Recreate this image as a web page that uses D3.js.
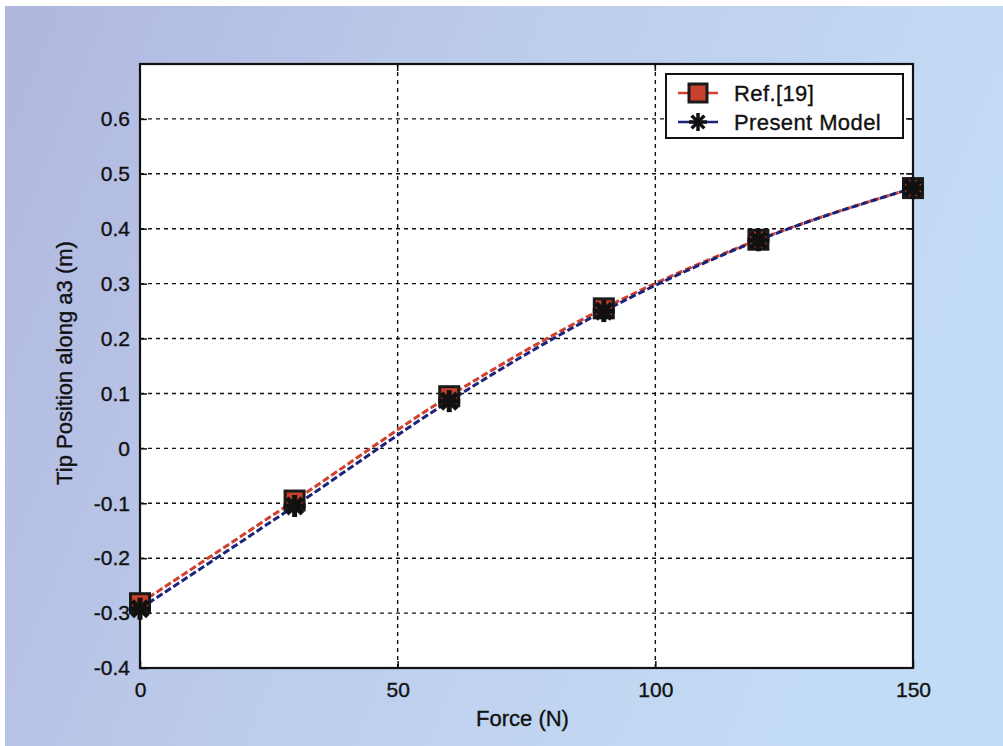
<!DOCTYPE html>
<html>
<head>
<meta charset="utf-8">
<script src="https://cdn.jsdelivr.net/npm/d3@7"></script>
<style>
  body { margin: 0; background: #fff; }
  svg { display: block; font-family: "Liberation Sans", Arial, sans-serif; }
  text { stroke: #111; stroke-width: 0.35px; }
</style>
</head>
<body>
<svg id="chart"></svg>
<script>
// data
const forces = [0, 30, 60, 90, 120, 150];
const refValues = [-0.282, -0.095, 0.095, 0.255, 0.38, 0.474];
const modelValues = [-0.292, -0.105, 0.086, 0.25, 0.379, 0.474];
const xTicks = [0, 50, 100, 150];
const yTicks = [-0.4, -0.3, -0.2, -0.1, 0, 0.1, 0.2, 0.3, 0.4, 0.5, 0.6];
const seriesNames = ["Ref.[19]", "Present Model"];

const W = 1003, H = 746;
const margin = {top: 64, right: 90, bottom: 78, left: 140};
const width = W - margin.left - margin.right;
const height = H - margin.top - margin.bottom;

const svg = d3.select("#chart").attr("width", W).attr("height", H);

// scanned paper background
const defs = svg.append("defs");
const grad = defs.append("linearGradient").attr("id", "bg").attr("x1", 0).attr("x2", 1).attr("y1", 0).attr("y2", 0.3);
grad.append("stop").attr("offset", "0%").attr("stop-color", "#b0b6de");
grad.append("stop").attr("offset", "45%").attr("stop-color", "#bccbeb");
grad.append("stop").attr("offset", "100%").attr("stop-color", "#c3dcf5");
svg.append("rect").attr("x", 5).attr("y", 6).attr("width", W - 5).attr("height", H - 6).attr("fill", "url(#bg)");

const x = d3.scaleLinear().domain([0, 150]).range([0, width]);
const y = d3.scaleLinear().domain([-0.4, 0.7]).range([height, 0]);

const chart = svg.append("g").attr("transform", `translate(${margin.left},${margin.top})`);

chart.append("rect").attr("width", width).attr("height", height).attr("fill", "#fff");

// grid
chart.append("g")
  .selectAll("line").data(xTicks.slice(1, -1)).join("line")
  .attr("x1", d => x(d)).attr("x2", d => x(d)).attr("y1", 0).attr("y2", height)
  .attr("stroke", "#111").attr("stroke-width", 1.4).attr("stroke-dasharray", "4,4");
chart.append("g")
  .selectAll("line").data(yTicks.slice(1)).join("line")
  .attr("x1", 0).attr("x2", width).attr("y1", d => y(d)).attr("y2", d => y(d))
  .attr("stroke", "#111").attr("stroke-width", 1.4).attr("stroke-dasharray", "4,4");

// axes
const fmtY = d => d === 0 ? "0" : d3.format(".1f")(d).replace("−", "-");
const xAxis = d3.axisBottom(x).tickValues(xTicks).tickSize(-7).tickPadding(14).tickFormat(d3.format("d"));
const yAxis = d3.axisLeft(y).tickValues(yTicks).tickSize(-7).tickPadding(10).tickFormat(fmtY);

chart.append("g").attr("transform", `translate(0,${height})`).call(xAxis)
  .call(g => g.select(".domain").remove())
  .call(g => g.selectAll("text").attr("font-size", 21).attr("fill", "#111").attr("font-family", "Liberation Sans, Arial"))
  .call(g => g.selectAll(".tick line").attr("stroke", "#111").attr("stroke-width", 1.5));
chart.append("g").call(yAxis)
  .call(g => g.select(".domain").remove())
  .call(g => g.selectAll("text").attr("font-size", 21).attr("fill", "#111").attr("font-family", "Liberation Sans, Arial"))
  .call(g => g.selectAll(".tick line").attr("stroke", "#111").attr("stroke-width", 1.5));

// top / right ticks
chart.append("g").selectAll("line").data(xTicks).join("line")
  .attr("x1", d => x(d)).attr("x2", d => x(d)).attr("y1", 0).attr("y2", 7)
  .attr("stroke", "#111").attr("stroke-width", 1.5);
chart.append("g").selectAll("line").data(yTicks).join("line")
  .attr("x1", width).attr("x2", width - 7).attr("y1", d => y(d)).attr("y2", d => y(d))
  .attr("stroke", "#111").attr("stroke-width", 1.5);

chart.append("rect").attr("width", width).attr("height", height)
  .attr("fill", "none").attr("stroke", "#111").attr("stroke-width", 2.2);

// series
const line = d3.line().x(d => x(d[0])).y(d => y(d[1])).curve(d3.curveMonotoneX);
const refPts = forces.map((f, i) => [f, refValues[i]]);
const modPts = forces.map((f, i) => [f, modelValues[i]]);

chart.append("path").datum(refPts).attr("d", line)
  .attr("fill", "none").attr("stroke", "#d0402c").attr("stroke-width", 3).attr("stroke-dasharray", "7,3");
chart.append("path").datum(modPts).attr("d", line)
  .attr("fill", "none").attr("stroke", "#1c237a").attr("stroke-width", 3).attr("stroke-dasharray", "7,3");

function asterisk(g, cx, cy, r, w) {
  [0, 45, 90, 135].forEach(a => {
    const t = a * Math.PI / 180;
    g.append("line")
      .attr("x1", cx - r * Math.cos(t)).attr("y1", cy - r * Math.sin(t))
      .attr("x2", cx + r * Math.cos(t)).attr("y2", cy + r * Math.sin(t))
      .attr("stroke", "#111").attr("stroke-width", w);
  });
}

chart.append("g").selectAll("rect").data(refPts).join("rect")
  .attr("x", d => x(d[0]) - 9.5).attr("y", d => y(d[1]) - 9.5)
  .attr("width", 19).attr("height", 19)
  .attr("fill", "#c8412c").attr("stroke", "#1a1a1a").attr("stroke-width", 3);
const stars = chart.append("g");
modPts.forEach(d => asterisk(stars, x(d[0]), y(d[1]), 11, 5));

// legend
const lg = svg.append("g").attr("transform", "translate(666,74)");
lg.append("rect").attr("width", 237).attr("height", 64)
  .attr("fill", "#fff").attr("stroke", "#111").attr("stroke-width", 2);
lg.append("line").attr("x1", 12).attr("x2", 52).attr("y1", 19).attr("y2", 19)
  .attr("stroke", "#d0402c").attr("stroke-width", 2.5);
lg.append("rect").attr("x", 23).attr("y", 10).attr("width", 18).attr("height", 18)
  .attr("fill", "#c8412c").attr("stroke", "#1a1a1a").attr("stroke-width", 3);
lg.append("line").attr("x1", 12).attr("x2", 52).attr("y1", 48).attr("y2", 48)
  .attr("stroke", "#1c237a").attr("stroke-width", 2.5);
asterisk(lg, 32, 48, 9, 3.5);
lg.selectAll("text.lab").data(seriesNames).join("text")
  .attr("x", 68).attr("y", (d, i) => 27 + i * 29)
  .attr("font-size", 22).attr("letter-spacing", 0.4).attr("fill", "#111").text(d => d);

// axis titles
svg.append("text").attr("x", margin.left + width / 2 - 4).attr("y", 726)
  .attr("text-anchor", "middle").attr("font-size", 22).attr("fill", "#111").text("Force (N)");
svg.append("text").attr("transform", `translate(72,${margin.top + height / 2 - 3}) rotate(-90)`)
  .attr("text-anchor", "middle").attr("font-size", 22).attr("fill", "#111").text("Tip Position along a3 (m)");
</script>
</body>
</html>
